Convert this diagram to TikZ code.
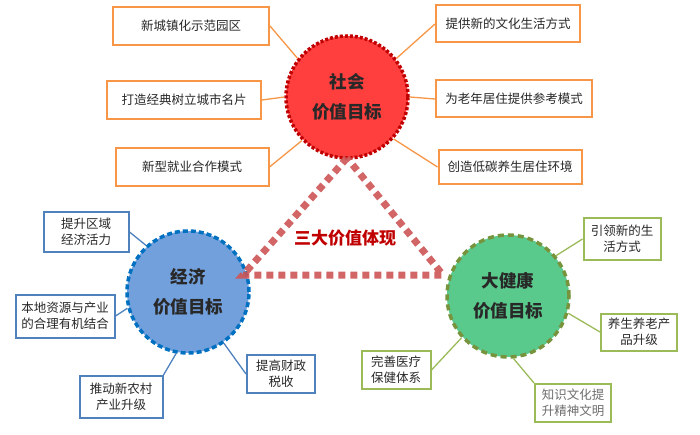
\documentclass[tikz,border=0pt]{standalone}
\usepackage{fontspec}
\newfontfamily\cjk{Noto Sans CJK SC}
\definecolor{orgline}{RGB}{247,150,70}
\definecolor{blueline}{RGB}{79,129,189}
\definecolor{greenline}{RGB}{155,187,89}
\definecolor{redfill}{RGB}{255,62,62}
\definecolor{reddash}{RGB}{192,0,0}
\definecolor{bluefill}{RGB}{114,160,220}
\definecolor{bluedash}{RGB}{0,112,192}
\definecolor{greenfill}{RGB}{90,201,140}
\definecolor{greendash}{RGB}{119,147,60}
\definecolor{tri}{RGB}{205,85,85}
\definecolor{txt}{RGB}{40,40,40}
\begin{document}
\begin{tikzpicture}[x=1pt,y=-1pt,
  box/.style={draw, line width=2pt, fill=white, inner sep=0pt, align=center,
    font=\cjk\fontsize{12.5}{16}\selectfont, text=txt},
  obox/.style={box, draw=orgline},
  bbox/.style={box, draw=blueline},
  gbox/.style={box, draw=greenline},
  goal/.style={circle, minimum size=122pt, inner sep=0pt, line width=3.5pt,
    align=center, font=\cjk\bfseries\fontsize{17.5}{30}\selectfont, text=txt},
  oline/.style={draw=orgline, line width=1.3pt},
  bline/.style={draw=blueline, line width=1.3pt},
  gline/.style={draw=greenline, line width=1.3pt},
  triline/.style={draw=tri, line width=7pt, dash pattern=on 7pt off 5pt, opacity=0.9}
]
\useasboundingbox (0,0) rectangle (700,435);

% circles
\node[goal, draw=reddash, fill=redfill, dash pattern=on 3pt off 2pt] (soc) at (347,97) {社会\\价值目标};
\node[goal, draw=bluedash, fill=bluefill, dash pattern=on 5pt off 3pt] (eco) at (188,292) {经济\\价值目标};
\node[goal, draw=greendash, fill=greenfill, dash pattern=on 6pt off 4pt] (hea) at (508,296) {大健康\\价值目标};

% orange boxes
\node[obox, minimum width=156pt, minimum height=38pt] (o1) at (191,26) {新城镇化示范园区};
\node[obox, minimum width=154pt, minimum height=38pt] (o2) at (184,100) {打造经典树立城市名片};
\node[obox, minimum width=153pt, minimum height=38pt] (o3) at (192,167) {新型就业合作模式};
\node[obox, minimum width=144pt, minimum height=37pt] (o4) at (508,24) {提供新的文化生活方式};
\node[obox, minimum width=156pt, minimum height=37pt] (o5) at (514,99) {为老年居住提供参考模式};
\node[obox, minimum width=143pt, minimum height=34pt] (o6) at (510,167) {创造低碳养生居住环境};

% blue boxes
\node[bbox, minimum width=85pt, minimum height=40pt] (b1) at (86,232) {提升区域\\经济活力};
\node[bbox, minimum width=99pt, minimum height=43pt] (b2) at (65,316) {本地资源与产业\\的合理有机结合};
\node[bbox, minimum width=83pt, minimum height=42pt] (b3) at (121,397) {推动新农村\\产业升级};
\node[bbox, minimum width=68pt, minimum height=38pt] (b4) at (281,374) {提高财政\\税收};

% green boxes
\node[gbox, minimum width=77pt, minimum height=42pt] (g1) at (622,239) {引领新的生\\活方式};
\node[gbox, minimum width=76pt, minimum height=37pt] (g2) at (639,332) {养生养老产\\品升级};
\node[gbox, minimum width=69pt, minimum height=38pt] (g3) at (396,370) {完善医疗\\保健体系};
\node[gbox, minimum width=76pt, minimum height=38pt, text={rgb,255:red,110;green,110;blue,110}] (g4) at (573,403) {知识文化提\\升精神文明};

% connectors
\draw[oline] (o1.east) -- (soc.142);
\draw[oline] (o2.east) -- (soc.180);
\draw[oline] (o3.east) -- (soc.224);
\draw[oline] (o4.west) -- (soc.38);
\draw[oline] (o5.west) -- (soc.0);
\draw[oline] (o6.west) -- (soc.-42);
\draw[bline] (b1.east) -- (eco.132);
\draw[bline] (b2.east) -- (eco.195);
\draw[bline] (b3.north east) -- (eco.259);
\draw[bline] (b4.west) -- (eco.305);
\draw[gline] (g1.west) -- (hea.40);
\draw[gline] (g2.west) -- (hea.-16);
\draw[gline] (g3.east) -- (hea.222);
\draw[gline] (g4.north west) -- (hea.275);

% triangle
\coordinate (tA) at (347,158);
\coordinate (tL) at (243,275);
\coordinate (tR) at (443,275);
\draw[triline] (tA) -- (tL) -- (tR) -- cycle;
\node[font=\cjk\bfseries\fontsize{17}{20}\selectfont, text=reddash] (lab) at (345,238) {三大价值体现};
\end{tikzpicture}
\end{document}
